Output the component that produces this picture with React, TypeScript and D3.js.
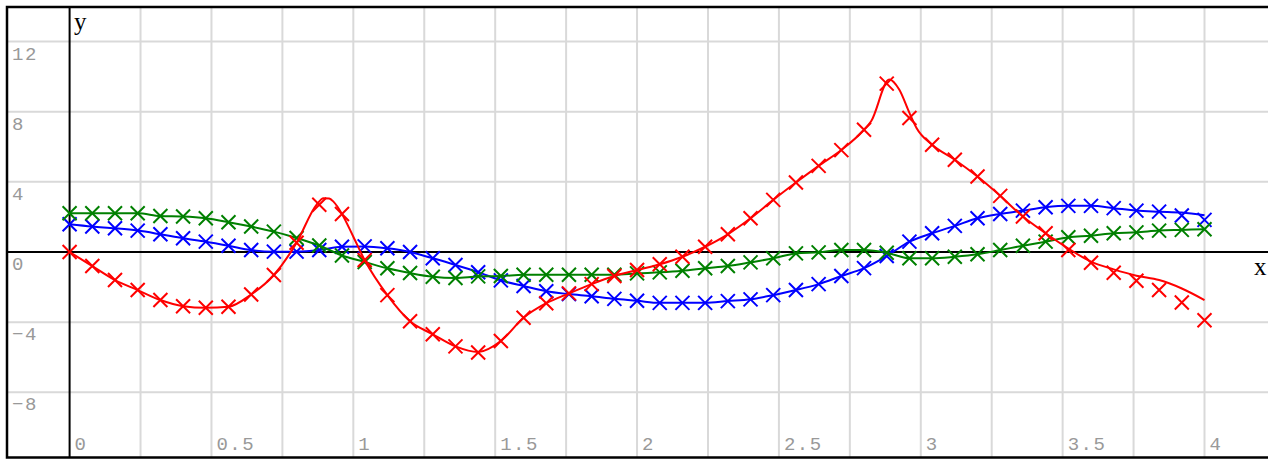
import React, { useEffect, useRef } from 'react';
import * as d3 from 'd3';

// sample positions of the markers
const xValues = [
  0, 0.08, 0.16, 0.24, 0.32, 0.4, 0.48, 0.56, 0.64, 0.72, 0.8, 0.88, 0.96, 1.04, 1.12, 1.2, 1.28,
  1.36, 1.44, 1.52, 1.6, 1.68, 1.76, 1.84, 1.92, 2.0, 2.08, 2.16, 2.24, 2.32, 2.4, 2.48, 2.56,
  2.64, 2.72, 2.8, 2.88, 2.96, 3.04, 3.12, 3.2, 3.28, 3.36, 3.44, 3.52, 3.6, 3.68, 3.76, 3.84,
  3.92, 4.0,
];

const redMarks = [
  0, -0.8, -1.6, -2.17, -2.74, -3.09, -3.18, -3.12, -2.42, -1.31, 0.53, 2.69, 2.17, -0.46, -2.46,
  -3.95, -4.69, -5.38, -5.73, -5.07, -3.75, -2.92, -2.36, -1.83, -1.37, -1.03, -0.7, -0.27, 0.3,
  1.01, 1.92, 2.97, 3.96, 4.91, 5.81, 6.97, 9.6, 7.64, 6.11, 5.26, 4.3, 3.2, 2.02, 1.07, 0.11,
  -0.61, -1.18, -1.64, -2.17, -2.88, -3.89,
];

const blueMarks = [
  1.58, 1.45, 1.35, 1.22, 1.01, 0.78, 0.59, 0.36, 0.11, 0.02, 0.02, 0.11, 0.3, 0.32, 0.21, 0,
  -0.36, -0.74, -1.15, -1.62, -1.94, -2.24, -2.4, -2.52, -2.67, -2.78, -2.9, -2.9, -2.9, -2.8,
  -2.7, -2.46, -2.17, -1.83, -1.37, -0.92, -0.23, 0.59, 1.07, 1.49, 1.92, 2.17, 2.36, 2.55, 2.63,
  2.63, 2.5, 2.36, 2.3, 2.08, 1.83,
];

const greenMarks = [
  2.21, 2.21, 2.21, 2.21, 2.05, 2.02, 1.92, 1.7, 1.45, 1.16, 0.8, 0.37, -0.2, -0.57, -0.93, -1.2,
  -1.41, -1.48, -1.39, -1.37, -1.3, -1.3, -1.3, -1.3, -1.3, -1.22, -1.16, -1.07, -0.93, -0.8,
  -0.59, -0.36, -0.08, -0.02, 0.11, 0.11, -0.04, -0.36, -0.36, -0.27, -0.13, 0.11, 0.36, 0.59,
  0.84, 0.93, 1.07, 1.12, 1.22, 1.26, 1.3,
];

// the curves do not always go through the markers
const redLine: [number, number][] = [
  [0, 0], [0.08, -0.8], [0.16, -1.6], [0.24, -2.17], [0.32, -2.74], [0.4, -3.09], [0.48, -3.18],
  [0.56, -3.12], [0.64, -2.42], [0.72, -1.31], [0.8, 0.53], [0.87, 2.69], [0.895, 3.07],
  [0.915, 3.05], [0.93, 2.87], [0.96, 2.17], [1.0, 0.87], [1.04, -0.46], [1.12, -2.46],
  [1.2, -3.95], [1.28, -4.69], [1.36, -5.38], [1.44, -5.7], [1.52, -5.07], [1.6, -3.75],
  [1.68, -2.92], [1.76, -2.36], [1.84, -1.83], [1.92, -1.37], [2.0, -1.03], [2.08, -0.7],
  [2.16, -0.27], [2.24, 0.3], [2.32, 1.01], [2.4, 1.92], [2.48, 2.97], [2.56, 3.96], [2.64, 4.91],
  [2.72, 5.81], [2.8, 6.97], [2.825, 7.45], [2.889, 9.83], [2.924, 9.26], [2.96, 7.93],
  [2.985, 7.07], [3.04, 6.11], [3.12, 5.26], [3.2, 4.3], [3.28, 3.2], [3.36, 2.02], [3.44, 1.07],
  [3.52, 0.2], [3.6, -0.55], [3.68, -0.99], [3.76, -1.35], [3.84, -1.6], [3.92, -2.08], [4.0, -2.74],
];

const blueLineEnd: [number, number][] = [[3.92, 2.25], [4.0, 2.1]];

const xTicks = [0, 0.5, 1, 1.5, 2, 2.5, 3, 3.5, 4];
const xTickLabels = ['0', '0.5', '1', '1.5', '2', '2.5', '3', '3.5', '4'];
const yTicks = [-8, -4, 0, 4, 8, 12];
const xGrid = [0.25, 0.5, 0.75, 1, 1.25, 1.5, 1.75, 2, 2.25, 2.5, 2.75, 3, 3.25, 3.5, 3.75, 4];

const App = () => {
  const ref = useRef<SVGSVGElement>(null);

  useEffect(() => {
    if (!ref.current) return;
    const svg = d3.select(ref.current);
    svg.selectAll('*').remove();

    const left = 7;
    const top = 7;
    const right = 1290;
    const bottom = 457.5;

    const x = d3.scaleLinear().domain([0, 4]).range([69.6, 1204.5]);
    const y = d3.scaleLinear().domain([0, 12]).range([252, 41.5]);

    // grid
    const grid = svg.append('g').attr('stroke', '#d9d9d9').attr('stroke-width', 2);
    grid
      .selectAll('line.v')
      .data(xGrid)
      .join('line')
      .attr('x1', (d) => x(d))
      .attr('x2', (d) => x(d))
      .attr('y1', top)
      .attr('y2', bottom);
    grid
      .selectAll('line.h')
      .data(yTicks.filter((d) => d !== 0))
      .join('line')
      .attr('x1', left)
      .attr('x2', right)
      .attr('y1', (d) => y(d))
      .attr('y2', (d) => y(d));

    // tick labels
    const font = "'Liberation Mono', monospace";
    svg
      .append('g')
      .selectAll('text')
      .data(yTicks)
      .join('text')
      .attr('x', 12)
      .attr('y', (d) => y(d) + 18)
      .attr('font-family', font)
      .attr('font-size', 19)
      .attr('letter-spacing', 1.5)
      .attr('fill', '#999')
      .text((d) => (d < 0 ? '\u2212' + Math.abs(d) : String(d)));

    svg
      .append('g')
      .selectAll('text')
      .data(xTicks)
      .join('text')
      .attr('x', (d) => x(d) + 5)
      .attr('y', 450)
      .attr('font-family', font)
      .attr('font-size', 19)
      .attr('letter-spacing', 1.5)
      .attr('fill', '#999')
      .text((d, i) => xTickLabels[i]);

    // axes
    svg
      .append('line')
      .attr('x1', left)
      .attr('x2', right)
      .attr('y1', y(0))
      .attr('y2', y(0))
      .attr('stroke', '#000')
      .attr('stroke-width', 2);
    svg
      .append('line')
      .attr('x1', x(0))
      .attr('x2', x(0))
      .attr('y1', top)
      .attr('y2', bottom)
      .attr('stroke', '#000')
      .attr('stroke-width', 2);

    svg
      .append('text')
      .attr('x', 74)
      .attr('y', 30)
      .attr('font-family', "'Liberation Serif', serif")
      .attr('font-size', 25)
      .attr('fill', '#000')
      .text('y');
    svg
      .append('text')
      .attr('x', 1254)
      .attr('y', 275)
      .attr('font-family', "'Liberation Serif', serif")
      .attr('font-size', 25)
      .attr('fill', '#000')
      .text('x');

    const line = d3
      .line<[number, number]>()
      .x((d) => x(d[0]))
      .y((d) => y(d[1]))
      .curve(d3.curveMonotoneX);

    const series = [
      {
        color: '#0000ff',
        marks: blueMarks,
        path: (xValues.map((v, i) => [v, blueMarks[i]]) as [number, number][])
          .filter((d) => d[0] < 3.9)
          .concat(blueLineEnd),
      },
      {
        color: '#008000',
        marks: greenMarks,
        path: xValues.map((v, i) => [v, greenMarks[i]]) as [number, number][],
      },
      { color: '#ff0000', marks: redMarks, path: redLine },
    ];

    const r = 7;
    series.forEach((s) => {
      const g = svg.append('g');
      g.append('path')
        .datum(s.path)
        .attr('fill', 'none')
        .attr('stroke', s.color)
        .attr('stroke-width', 2)
        .attr('d', line);
      g.selectAll('path.m')
        .data(s.marks)
        .join('path')
        .attr('class', 'm')
        .attr('fill', 'none')
        .attr('stroke', s.color)
        .attr('stroke-width', 2)
        .attr('d', (d, i) => {
          const cx = x(xValues[i]);
          const cy = y(d);
          return `M${cx - r},${cy - r}L${cx + r},${cy + r}M${cx - r},${cy + r}L${cx + r},${cy - r}`;
        });
    });

    // frame
    svg
      .append('rect')
      .attr('x', left)
      .attr('y', top)
      .attr('width', right - left)
      .attr('height', bottom - top)
      .attr('fill', 'none')
      .attr('stroke', '#000')
      .attr('stroke-width', 2.5);
  }, []);

  return (
    <svg
      ref={ref}
      width={1268}
      height={459}
      style={{ position: 'absolute', left: 0, top: 0, background: '#fff' }}
    />
  );
};

export default App;
